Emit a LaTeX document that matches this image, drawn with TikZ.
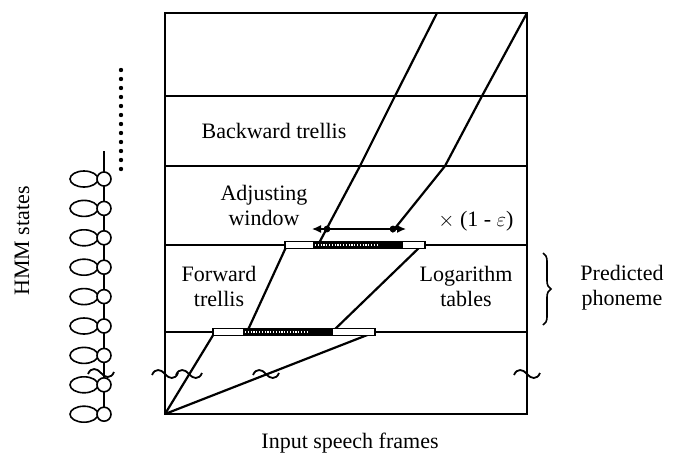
\documentclass[tikz,border=0pt]{standalone}
\usepackage{fontspec}
\setmainfont{Liberation Serif}
\usetikzlibrary{arrows.meta,decorations.pathreplacing}
\tikzset{
  frame/.style={line width=1.8pt},
  track/.style={line width=2.2pt},
  lbl/.style={font=\fontsize{22}{25}\selectfont, align=center, inner sep=0pt},
  barbox/.style={line width=1.6pt, fill=white},
  statecirc/.style={line width=1.6pt, fill=white},
  brkmark/.pic={\draw[line width=1.8pt] (-13,1) .. controls (-10,-6) and (-4,-5) .. (0,0) .. controls (4,5) and (10,6) .. (13,-1);}
}
\begin{document}
\begin{tikzpicture}[x=1pt,y=-1pt]
\useasboundingbox (0,0) rectangle (675,459);
% frame
\coordinate (TL) at (165,13);
\coordinate (TR) at (527,13);
\coordinate (BL) at (165,414);
\coordinate (BR) at (527,414);
\draw[frame] (TL) rectangle (BR);
\foreach \yy in {96,166,245,332}{
  \draw[frame] (165,\yy) -- (527,\yy);
}
% tracks
\coordinate (lbL) at (215,332);
\coordinate (lbR) at (375,332);
\coordinate (ubL) at (287,245);
\coordinate (ubR) at (422,245);
\coordinate (m1) at (247,332);
\coordinate (m2) at (332,332);
\draw[track] (BL) -- (lbL);
\draw[track] (BL) -- (lbR);
\draw[track] (ubL) -- (m1);
\draw[track] (ubR) -- (m2);
\coordinate (a1) at (318,245);
\coordinate (a2) at (360,166);
\coordinate (a3) at (395,96);
\coordinate (a4) at (437,13);
\draw[track] (a1) -- (a2) -- (a3) -- (a4);
\coordinate (b1) at (392,232);
\coordinate (b2) at (445,166);
\coordinate (b3) at (482,96);
\draw[track] (b1) -- (b2) -- (b3) -- (TR);
% lower bar
\draw[barbox] (213,328.5) rectangle (375,335.5);
\fill (243,328.5) rectangle (333,335.5);
\draw[white, line width=1.3pt, dash pattern=on 1.2pt off 1.6pt] (245,332) -- (308,332);
% upper bar
\draw[barbox] (285,241.5) rectangle (425,248.5);
\fill (313,241.5) rectangle (403,248.5);
\draw[white, line width=1.3pt, dash pattern=on 1.2pt off 1.6pt] (315,245) -- (378,245);
% adjusting arrow
\coordinate (arL) at (312,229);
\coordinate (arR) at (406,229);
\draw[line width=1.4pt, {Latex[length=9pt,width=8pt]}-{Latex[length=9pt,width=8pt]}] (arL) -- (arR);
\fill (327,229) circle (3.4);
\fill (393,229) circle (3.4);
% break marks
\pic at (165,374) {brkmark};
\pic at (189,374) {brkmark};
\pic at (266,374) {brkmark};
\pic at (527,374) {brkmark};
\pic at (101,373) {brkmark};
% labels
\node[lbl] (bw) at (274,131) {Backward trellis};
\node[lbl] (adj) at (264,205) {Adjusting\\window};
\node[lbl] (eps) at (476,221) {$\times$ (1 - $\varepsilon$)};
\node[lbl] (fw) at (219,286) {Forward\\trellis};
\node[lbl] (log) at (466,286) {Logarithm\\tables};
\node[lbl] (pp) at (622,288) {Predicted\\phoneme};
\node[lbl] (isf) at (350,443) {Input speech frames};
\node[lbl, rotate=90] (hmm) at (22,241) {HMM states};
\draw[line width=1.6pt, decorate, decoration={brace, amplitude=8pt}] (543,253) -- (543,325);
% HMM chain
\coordinate (ctop) at (104,151);
\coordinate (cbot) at (104,414);
\draw[line width=1.6pt] (ctop) -- (cbot);
\foreach \k in {0,...,8}{
  \pgfmathsetmacro{\cy}{179+29.4*\k}
  \draw[statecirc] (84,\cy) ellipse (14 and 8);
  \draw[statecirc] (104,\cy) circle (7);
}
\foreach \k in {0,...,11}{
  \fill (121,{70+9*\k}) circle (2.2);
}
\end{tikzpicture}
\end{document}
